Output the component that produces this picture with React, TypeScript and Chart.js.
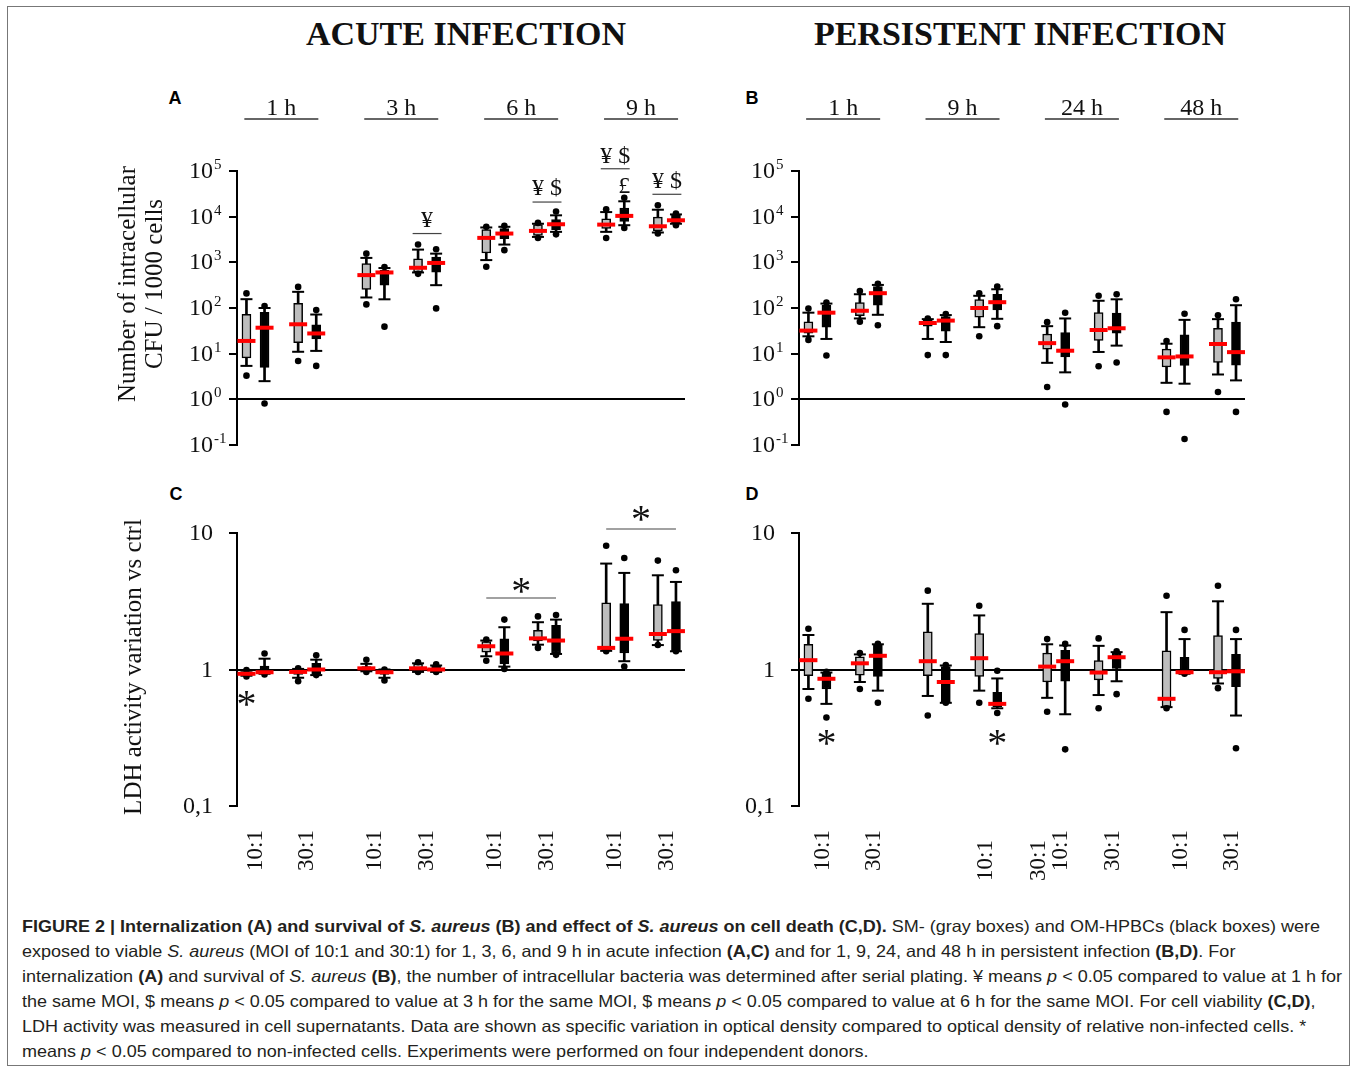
import React, { useEffect, useRef } from 'react';
import { Chart, registerables } from 'chart.js';

Chart.register(...registerables);

// ---------------- data ----------------
const acuteTimes = ['1 h', '3 h', '6 h', '9 h'];
const persistentTimes = ['1 h', '9 h', '24 h', '48 h'];
const moiLabels = ['10:1', '30:1'];

// one row per time/MOI group (10:1, 30:1 for each time):
// [low point, lower whisker, Q1, median, Q3, upper whisker, high point]
const acuteCfuSM = [
  [3.3, 5.4, 8.1, 19, 73, 156, 209],
  [6.9, 11, 17.4, 44, 126, 226, 290],
  [120, 170, 254, 525, 940, 1250, 1550],
  [560, 600, 610, 760, 1200, 1900, 2450],
  [800, 1120, 1600, 3430, 5200, 5800, 6000],
  [3400, 3600, 3900, 4880, 6700, 7000, 7300],
  [3400, 4650, 5500, 6700, 9000, 12600, 14500],
  [4270, 4500, 4900, 6160, 9800, 14200, 17800],
];
const acuteCfuOM = [
  [0.81, 2.5, 5, 37, 80, 100, 110],
  [5.4, 11.5, 21, 27.7, 43, 72, 90],
  [39, 155, 316, 600, 670, 750, 790],
  [98, 316, 610, 970, 1300, 1550, 1940],
  [1850, 2450, 3300, 4270, 5500, 6000, 6300],
  [4100, 4650, 5200, 6820, 8650, 10700, 13000],
  [5650, 6500, 7900, 10400, 15500, 21700, 26000],
  [6500, 7000, 7300, 8330, 10700, 11200, 11700],
];
const persistCfuSM = [
  [20, 24, 28, 32, 50, 79, 97],
  [50, 59, 68, 87, 132, 200, 235],
  [9.3, 21, 40, 47, 55, 57, 59],
  [24, 38, 63, 100, 152, 185, 210],
  [1.86, 6.3, 12.6, 17, 27, 40, 49],
  [5.3, 10.9, 19.5, 33, 79, 144, 185],
  [0.53, 2.3, 5.1, 8.3, 12.6, 16.5, 19],
  [1.45, 3.5, 6.4, 16.3, 36, 57, 69],
];
const persistCfuOM = [
  [9.1, 21, 38, 79, 115, 125, 132],
  [42, 71, 115, 211, 295, 320, 340],
  [9.3, 18, 31, 53, 65, 70, 74],
  [40, 58, 91, 134, 200, 257, 295],
  [0.77, 3.9, 8.5, 11.6, 29, 59, 79],
  [6.4, 15, 28, 36, 77, 155, 200],
  [0.135, 2.2, 5.5, 8.7, 26, 55, 75],
  [0.53, 2.6, 5.6, 10.8, 49, 115, 155],
];
const acuteLdhSM = [
  [0.89, 0.9, 0.91, 0.93, 0.96, 0.98, 0.99],
  [0.82, 0.87, 0.92, 0.96, 1.0, 1.01, 1.02],
  [0.96, 0.97, 0.98, 1.02, 1.05, 1.1, 1.18],
  [0.96, 0.96, 0.97, 1.02, 1.1, 1.11, 1.13],
  [1.16, 1.25, 1.34, 1.48, 1.6, 1.63, 1.66],
  [1.44, 1.52, 1.62, 1.69, 1.94, 2.22, 2.45],
  [1.36, 1.37, 1.38, 1.44, 3.08, 5.97, 8.07],
  [1.51, 1.51, 1.63, 1.82, 2.99, 4.9, 6.28],
];
const acuteLdhOM = [
  [0.92, 0.93, 0.94, 0.955, 1.06, 1.2, 1.31],
  [0.91, 0.91, 0.92, 1.0, 1.11, 1.18, 1.27],
  [0.83, 0.87, 0.92, 0.955, 1.0, 1.0, 1.0],
  [0.96, 0.96, 0.97, 1.0, 1.06, 1.07, 1.09],
  [1.01, 1.05, 1.1, 1.31, 1.68, 2.04, 2.32],
  [1.28, 1.3, 1.32, 1.63, 2.11, 2.32, 2.51],
  [1.05, 1.15, 1.32, 1.68, 3.04, 5.1, 6.56],
  [1.36, 1.36, 1.36, 1.91, 3.15, 4.38, 5.33],
];
const persistLdhSM = [
  [0.61, 0.72, 0.9, 1.17, 1.53, 1.79, 1.99],
  [0.72, 0.81, 0.91, 1.11, 1.24, 1.29, 1.32],
  [0.46, 0.64, 0.9, 1.15, 1.89, 3.03, 3.78],
  [0.57, 0.7, 0.89, 1.21, 1.83, 2.49, 2.93],
  [0.49, 0.62, 0.81, 1.05, 1.32, 1.53, 1.67],
  [0.52, 0.65, 0.84, 0.95, 1.16, 1.49, 1.69],
  [0.52, 0.53, 0.535, 0.61, 1.37, 2.63, 3.47],
  [0.73, 0.79, 0.86, 0.955, 1.77, 3.16, 4.11],
];
const persistLdhOM = [
  [0.445, 0.56, 0.72, 0.855, 0.94, 0.95, 0.96],
  [0.57, 0.7, 0.89, 1.26, 1.52, 1.53, 1.54],
  [0.57, 0.57, 0.57, 0.81, 1.05, 1.07, 1.08],
  [0.48, 0.52, 0.535, 0.56, 0.68, 0.86, 0.98],
  [0.26, 0.47, 0.82, 1.15, 1.38, 1.5, 1.54],
  [0.66, 0.82, 1.02, 1.23, 1.32, 1.34, 1.36],
  [0.93, 0.93, 0.93, 0.955, 1.23, 1.67, 1.95],
  [0.265, 0.46, 0.75, 0.97, 1.29, 1.67, 1.95],
];

const cfuTickValues = [0.1, 1, 10, 100, 1000, 10000, 100000];
const ldhTickValues = [0.1, 1, 10];
const ldhTickLabels = ['0,1', '1', '10'];

// significance marks: groups spanned, symbol, value position of symbol and bar
const acuteCfuMarks = [
  { from: 3, to: 3, text: '¥', textY: 8300, lineY: 4270 },
  { from: 5, to: 5, text: '¥ $', textY: 40700, lineY: 20900 },
  { from: 6, to: 6, text: '¥ $', textY: 209000, lineY: 112000 },
  { from: 6, to: 6, text: '£', textY: 46000, side: 1 },
  { from: 7, to: 7, text: '¥ $', textY: 57500, lineY: 30900 },
];
const acuteLdhMarks = [
  { from: 0, to: 0, text: '*', textY: 0.618, side: -1 },
  { from: 4, to: 5, text: '*', textY: 4.16, lineY: 3.34 },
  { from: 6, to: 7, text: '*', textY: 14.0, lineY: 10.7 },
];
const persistLdhMarks = [
  { from: 0, to: 0, text: '*', textY: 0.32, side: 1 },
  { from: 3, to: 3, text: '*', textY: 0.32, side: 1 },
];

// ---------------- layout ----------------
const TIME_STEP = 2.32;
const BOX_OFF = 0.175;
const X_MIN = -0.358;
const X_MAX = 8.31;
const slotX = (i: number) => Math.floor(i / 2) * TIME_STEP + (i % 2);
// panel D labels are printed slightly displaced in the original
const persistLdhLabelX = [0.1, 1.1, 3.27, 4.3, 4.74, 5.74, 7.06, 8.06];
const persistLdhLabelDy = [0, 0, 10, 10, 0, 0, 0, 0];

const SERIF = '"Liberation Serif", "Times New Roman", serif';

function seriesDatasets(stats: number[][], off: number, fill: string) {
  const px = (i: number) => slotX(i) + off;
  return [
    {
      type: 'bar',
      data: stats.map((s, i) => ({ x: px(i), y: [s[1], s[5]] })),
      backgroundColor: '#000',
      borderWidth: 0,
      barThickness: 2,
      grouped: false,
      order: 4,
    },
    {
      type: 'scatter',
      data: stats.flatMap((s, i) => [
        { x: px(i), y: s[1] },
        { x: px(i), y: s[5] },
      ]),
      pointStyle: 'line',
      pointRadius: 6,
      pointBorderColor: '#000',
      pointBorderWidth: 2,
      order: 3,
      clip: false,
    },
    {
      type: 'bar',
      data: stats.map((s, i) => ({ x: px(i), y: [s[2], s[4]] })),
      backgroundColor: fill,
      borderColor: '#000',
      borderWidth: 1.5,
      borderSkipped: false,
      barThickness: 9,
      grouped: false,
      order: 2,
    },
    {
      type: 'scatter',
      data: stats.flatMap((s, i) => [
        { x: px(i), y: s[0] },
        { x: px(i), y: s[6] },
      ]),
      pointStyle: 'circle',
      pointRadius: 3.3,
      pointBackgroundColor: '#000',
      pointBorderColor: '#000',
      pointBorderWidth: 0,
      order: 1,
      clip: false,
    },
    {
      type: 'scatter',
      data: stats.map((s, i) => ({ x: px(i), y: s[3] })),
      pointStyle: 'line',
      pointRadius: 9,
      pointBorderColor: '#ff0000',
      pointBorderWidth: 4,
      order: 0,
      clip: false,
    },
  ];
}

function makeDecor(cfg: any) {
  return {
    id: 'decor',
    afterDraw(chart: any) {
      const { ctx, chartArea: ca } = chart;
      const xs = chart.scales.x;
      const ys = chart.scales.y;
      ctx.save();
      ctx.fillStyle = '#111';
      // y tick labels
      cfg.yTicks.forEach((v: number, i: number) => {
        const y = ys.getPixelForValue(v);
        const xr = ca.left - 24;
        ctx.textAlign = 'right';
        ctx.textBaseline = 'alphabetic';
        ctx.font = `24px ${SERIF}`;
        if (cfg.yTickText) {
          ctx.fillText(cfg.yTickText[i], xr, y + 7);
        } else {
          ctx.fillText('10', xr, y + 7);
          ctx.font = `15px ${SERIF}`;
          ctx.textAlign = 'left';
          ctx.fillText(String(Math.round(Math.log10(v))), xr + 1, y - 2);
        }
      });
      // y title
      ctx.font = `25px ${SERIF}`;
      ctx.textAlign = 'center';
      ctx.textBaseline = 'middle';
      cfg.yTitle.forEach((t: string, i: number) => {
        ctx.save();
        ctx.translate(ca.left + cfg.yTitleX[i], ca.top + cfg.yTitleDy);
        ctx.rotate(-Math.PI / 2);
        ctx.fillText(t, 0, 0);
        ctx.restore();
      });
      // time headers
      if (cfg.headers) {
        cfg.headers.forEach((h: string, t: number) => {
          const cx = xs.getPixelForValue(t * TIME_STEP + 0.5);
          ctx.font = `24px ${SERIF}`;
          ctx.textAlign = 'center';
          ctx.textBaseline = 'alphabetic';
          ctx.fillText(h, cx, ca.top - 56);
          ctx.strokeStyle = '#333';
          ctx.lineWidth = 1.3;
          ctx.beginPath();
          ctx.moveTo(cx - 37, ca.top - 52);
          ctx.lineTo(cx + 37, ca.top - 52);
          ctx.stroke();
        });
      }
      // x labels (MOI)
      if (cfg.xLabels) {
        cfg.xLabels.forEach((l: any) => {
          ctx.save();
          ctx.translate(xs.getPixelForValue(l.x), ca.bottom + 24 + l.dy);
          ctx.rotate(-Math.PI / 2);
          ctx.font = `23px ${SERIF}`;
          ctx.textAlign = 'right';
          ctx.textBaseline = 'middle';
          ctx.fillText(l.text, 0, 0);
          ctx.restore();
        });
      }
      // significance marks
      cfg.marks.forEach((m: any) => {
        const center = (slotX(m.from) + slotX(m.to)) / 2 + (m.side || 0) * BOX_OFF;
        const half = m.from === m.to ? 0.28 : (slotX(m.to) - slotX(m.from)) / 2 + BOX_OFF;
        const cx = xs.getPixelForValue(center);
        if (m.lineY) {
          const ly = ys.getPixelForValue(m.lineY);
          ctx.strokeStyle = '#444';
          ctx.lineWidth = 1.2;
          ctx.beginPath();
          ctx.moveTo(xs.getPixelForValue(center - half), ly);
          ctx.lineTo(xs.getPixelForValue(center + half), ly);
          ctx.stroke();
        }
        const ty = ys.getPixelForValue(m.textY);
        ctx.textAlign = 'center';
        if (m.text === '*') {
          ctx.font = `40px ${SERIF}`;
          ctx.textBaseline = 'alphabetic';
          ctx.fillText('*', cx, ty + 19);
        } else {
          ctx.font = `24px ${SERIF}`;
          ctx.textBaseline = 'middle';
          ctx.fillText(m.text, cx, ty);
        }
      });
      ctx.restore();
    },
  };
}

function buildConfig(cfg: any) {
  return {
    type: 'scatter',
    data: {
      datasets: [
        ...seriesDatasets(cfg.sm, -BOX_OFF, '#bdbdbd'),
        ...seriesDatasets(cfg.om, BOX_OFF, '#000000'),
      ],
    },
    options: {
      animation: false,
      responsive: false,
      devicePixelRatio: 1,
      events: [],
      layout: { padding: { left: 0, top: cfg.pad.top, right: cfg.pad.right, bottom: cfg.pad.bottom } },
      plugins: { legend: { display: false }, tooltip: { enabled: false }, colors: { enabled: false } },
      scales: {
        x: { type: 'linear', min: X_MIN, max: X_MAX, display: false, offset: false },
        y: {
          type: 'logarithmic',
          position: 'left',
          min: cfg.yMin,
          max: cfg.yMax,
          afterBuildTicks: (s: any) => {
            s.ticks = cfg.yTicks.map((v: number) => ({ value: v }));
          },
          afterFit: (s: any) => {
            s.width = cfg.axisWidth;
          },
          ticks: { display: false },
          grid: {
            drawOnChartArea: true,
            drawTicks: true,
            tickLength: 8,
            tickWidth: 2,
            tickColor: '#000',
            lineWidth: 2,
            color: (c: any) => (c.tick && c.tick.value === 1 ? '#000' : 'rgba(0,0,0,0)'),
          },
          border: { display: true, color: '#000', width: 2 },
        },
      },
    },
    plugins: [makeDecor(cfg)],
  };
}

function Panel(props: { cfg: any; left: number; top: number; width: number; height: number }) {
  const ref = useRef<HTMLCanvasElement>(null);
  useEffect(() => {
    const chart = new Chart(ref.current as HTMLCanvasElement, buildConfig(props.cfg) as any);
    return () => chart.destroy();
  }, []);
  return (
    <canvas
      ref={ref}
      width={props.width}
      height={props.height}
      style={{ position: 'absolute', left: props.left, top: props.top, width: props.width, height: props.height }}
    />
  );
}

const panelA = {
  sm: acuteCfuSM, om: acuteCfuOM, yMin: 0.1, yMax: 100000, yTicks: cfuTickValues,
  axisWidth: 147, pad: { top: 111, right: 15, bottom: 15 },
  yTitle: ['Number of intracellular', 'CFU / 1000 cells'], yTitleX: [-109, -82], yTitleDy: 113,
  headers: acuteTimes, marks: acuteCfuMarks,
};
const panelB = {
  sm: persistCfuSM, om: persistCfuOM, yMin: 0.1, yMax: 100000, yTicks: cfuTickValues,
  axisWidth: 99, pad: { top: 111, right: 15, bottom: 15 },
  yTitle: [], yTitleX: [], yTitleDy: 0,
  headers: persistentTimes, marks: [],
};
const panelC = {
  sm: acuteLdhSM, om: acuteLdhOM, yMin: 0.1, yMax: 10, yTicks: ldhTickValues, yTickText: ldhTickLabels,
  axisWidth: 147, pad: { top: 63, right: 15, bottom: 94 },
  yTitle: ['LDH activity variation vs ctrl'], yTitleX: [-103], yTitleDy: 134,
  xLabels: acuteLdhSM.map((_, i) => ({ x: slotX(i), text: moiLabels[i % 2], dy: 0 })),
  marks: acuteLdhMarks,
};
const panelD = {
  sm: persistLdhSM, om: persistLdhOM, yMin: 0.1, yMax: 10, yTicks: ldhTickValues, yTickText: ldhTickLabels,
  axisWidth: 99, pad: { top: 63, right: 15, bottom: 94 },
  yTitle: [], yTitleX: [], yTitleDy: 0,
  xLabels: persistLdhLabelX.map((x, i) => ({ x, text: moiLabels[i % 2], dy: persistLdhLabelDy[i] })),
  marks: persistLdhMarks,
};

const titleStyle: any = {
  position: 'absolute', top: 34, transform: 'translate(-50%, -50%)', whiteSpace: 'nowrap',
  fontFamily: SERIF, fontWeight: 'bold', fontSize: 34, lineHeight: 1, color: '#111',
};
const letterStyle: any = {
  position: 'absolute', transform: 'translate(-50%, -50%)', fontFamily: '"Liberation Sans", Arial, sans-serif',
  fontWeight: 'bold', fontSize: 18, lineHeight: 1, color: '#000',
};

export default function App() {
  const capRef = useRef<HTMLDivElement>(null);
  const l3Ref = useRef<HTMLSpanElement>(null);
  useEffect(() => {
    const fit = () => {
      const c = capRef.current;
      const l = l3Ref.current;
      if (!c || !l) return;
      c.style.transform = 'none';
      const w = l.getBoundingClientRect().width;
      if (w > 0) c.style.transform = `scaleX(${1320 / w})`;
    };
    fit();
    const f: any = (document as any).fonts;
    if (f && f.ready) f.ready.then(fit);
  }, []);

  return (
    <div style={{ position: 'absolute', left: 0, top: 0, width: 1357, height: 1072, background: '#fff', overflow: 'hidden' }}>
      <div style={{ position: 'absolute', left: 7, top: 6, width: 1343, height: 1060, border: '1px solid #777', boxSizing: 'border-box' }} />
      <div style={{ ...titleStyle, left: 466 }}>ACUTE INFECTION</div>
      <div style={{ ...titleStyle, left: 1020 }}>PERSISTENT INFECTION</div>
      <div style={{ ...letterStyle, left: 175, top: 98 }}>A</div>
      <div style={{ ...letterStyle, left: 752, top: 98 }}>B</div>
      <div style={{ ...letterStyle, left: 176, top: 494 }}>C</div>
      <div style={{ ...letterStyle, left: 752, top: 494 }}>D</div>
      <Panel cfg={panelA} left={90} top={60} width={610} height={400} />
      <Panel cfg={panelB} left={700} top={60} width={560} height={400} />
      <Panel cfg={panelC} left={90} top={470} width={610} height={430} />
      <Panel cfg={panelD} left={700} top={470} width={560} height={430} />
      <div
        ref={capRef}
        style={{
          position: 'absolute', left: 22, top: 914, transformOrigin: '0 0', whiteSpace: 'nowrap',
          fontFamily: '"Liberation Sans Narrow", "Liberation Sans", Arial, sans-serif', fontSize: 16.5,
          lineHeight: '25px', color: '#231f20',
        }}
      >
        <div>
          <b>FIGURE 2 | Internalization (A) and survival of <i>S. aureus</i> (B) and effect of <i>S. aureus</i> on cell death (C,D).</b> SM- (gray boxes) and OM-HPBCs (black boxes) were
        </div>
        <div>
          exposed to viable <i>S. aureus</i> (MOI of 10:1 and 30:1) for 1, 3, 6, and 9 h in acute infection <b>(A,C)</b> and for 1, 9, 24, and 48 h in persistent infection <b>(B,D)</b>. For
        </div>
        <div>
          <span ref={l3Ref}>
            internalization <b>(A)</b> and survival of <i>S. aureus</i> <b>(B)</b>, the number of intracellular bacteria was determined after serial plating. ¥ means <i>p</i> {'<'} 0.05 compared to value at 1 h for
          </span>
        </div>
        <div>
          the same MOI, $ means <i>p</i> {'<'} 0.05 compared to value at 3 h for the same MOI, $ means <i>p</i> {'<'} 0.05 compared to value at 6 h for the same MOI. For cell viability <b>(C,D)</b>,
        </div>
        <div>
          LDH activity was measured in cell supernatants. Data are shown as specific variation in optical density compared to optical density of relative non-infected cells. *
        </div>
        <div>
          means <i>p</i> {'<'} 0.05 compared to non-infected cells. Experiments were performed on four independent donors.
        </div>
      </div>
    </div>
  );
}
